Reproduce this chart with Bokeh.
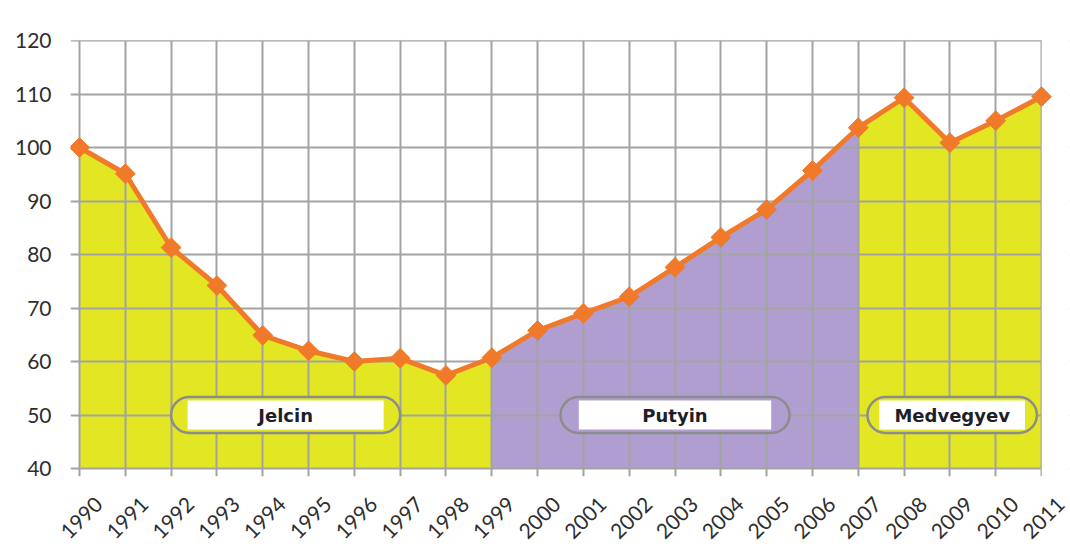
from bokeh.plotting import figure
from bokeh.embed import file_html
from bokeh.resources import INLINE
from bokeh.models import FixedTicker, Range1d, CustomJSTickFormatter
from bokeh.core.properties import value
import math

years = list(range(1990, 2012))
index_values = [100, 95.1, 81.3, 74.2, 64.9, 62.0, 60.0, 60.6, 57.4, 60.7, 65.8,
                69.0, 72.1, 77.6, 83.2, 88.4, 95.7, 103.7, 109.3, 100.9, 105.0, 109.5]
y_ticks = list(range(40, 121, 10))

era_names = ["Jelcin", "Putyin", "Medvegyev"]
era_start = [1990, 1999, 2007]
era_end = [1999, 2007, 2011]
era_colors = ["#E2E623", "#B19ED1", "#E2E623"]
label_x = [1994.5, 2003.0, 2009.05]
label_pill_w = [5.0, 5.0, 3.7]
label_inner_w = [4.28, 4.2, 3.18]
label_y = 50

GRID = "#A3A3A3"
LABEL_SHIFT = 0.42

# layout: years 1990..2011 span 962 px, values 40..120 span 428 px
PX_X = 962 / 21
PX_Y = 428 / 80
x_lo, x_hi = years[0], years[-1]
y_lo, y_hi = y_ticks[0], y_ticks[-1]
x_start = x_lo - 9 / PX_X      # grid lines stick out 9px to the left as tick marks
x_end = x_hi + 28 / PX_X       # room for the last rotated label
y_start = y_lo - 8 / PX_Y      # grid lines stick out 8px below as tick marks
y_end = y_hi + 4 / PX_Y

p = figure(width=1070, height=554, output_backend="svg", toolbar_location=None,
           x_range=Range1d(x_start, x_end), y_range=Range1d(y_start, y_end),
           min_border_left=70, min_border_right=1, min_border_top=36, min_border_bottom=78)
p.outline_line_color = None
p.background_fill_color = "white"
p.border_fill_color = "white"

for s, e, c in zip(era_start, era_end, era_colors):
    xs = [y for y in years if s <= y <= e]
    vs = [v for y, v in zip(years, index_values) if s <= y <= e]
    p.varea(x=xs, y1=[y_lo] * len(xs), y2=vs, fill_color=c, fill_alpha=1, level="image")

p.xgrid.ticker = FixedTicker(ticks=years)
p.ygrid.ticker = FixedTicker(ticks=y_ticks)
for g in (p.xgrid, p.ygrid):
    g.grid_line_color = GRID
    g.grid_line_width = 2
    g.level = "underlay"

# white masks so grid lines stop at the chart frame (above 120, right of 2011)
p.quad(left=[x_hi + 1.2 / PX_X, x_start - 1], right=[x_end + 1, x_end + 1],
       bottom=[y_start - 2, y_hi + 1.2 / PX_Y], top=[y_end + 2, y_end + 2],
       fill_color="white", line_color="white", line_width=2)

# pills
p.rect(x=label_x, y=[label_y] * 3, width=label_pill_w, height=6.7,
       fill_color=era_colors, line_color="#8C8C8C", line_width=2.5, border_radius=18)
p.rect(x=label_x, y=[label_y] * 3, width=label_inner_w, height=5.4,
       fill_color="white", line_color=None)
p.text(x=label_x, y=[label_y] * 3, text=era_names, text_align="center",
       text_baseline="middle", text_font=value("DejaVu Sans"), text_font_style="bold",
       text_font_size="18px", text_color="#1E1E28")

p.line(years, index_values, line_color="#F07A2A", line_width=5)
p.scatter(years, index_values, marker="square", angle=math.pi / 4, size=14,
          fill_color="#F07A2A", line_color="#F07A2A")

p.yaxis.ticker = FixedTicker(ticks=y_ticks)
p.xaxis.ticker = FixedTicker(ticks=[y + LABEL_SHIFT for y in years])
p.xaxis.formatter = CustomJSTickFormatter(code="return Math.floor(tick).toString()")
for ax in (p.xaxis, p.yaxis):
    ax.axis_line_color = None
    ax.major_tick_line_color = None
    ax.minor_tick_line_color = None
    ax.major_label_text_font = "Lato"
    ax.major_label_text_font_size = "21px"
    ax.major_label_text_color = "#2E2E2E"
p.yaxis.major_label_standoff = 13
p.xaxis.major_label_orientation = math.pi / 4
p.xaxis.major_label_standoff = 18

open("out.html", "w").write(file_html(p, INLINE))
